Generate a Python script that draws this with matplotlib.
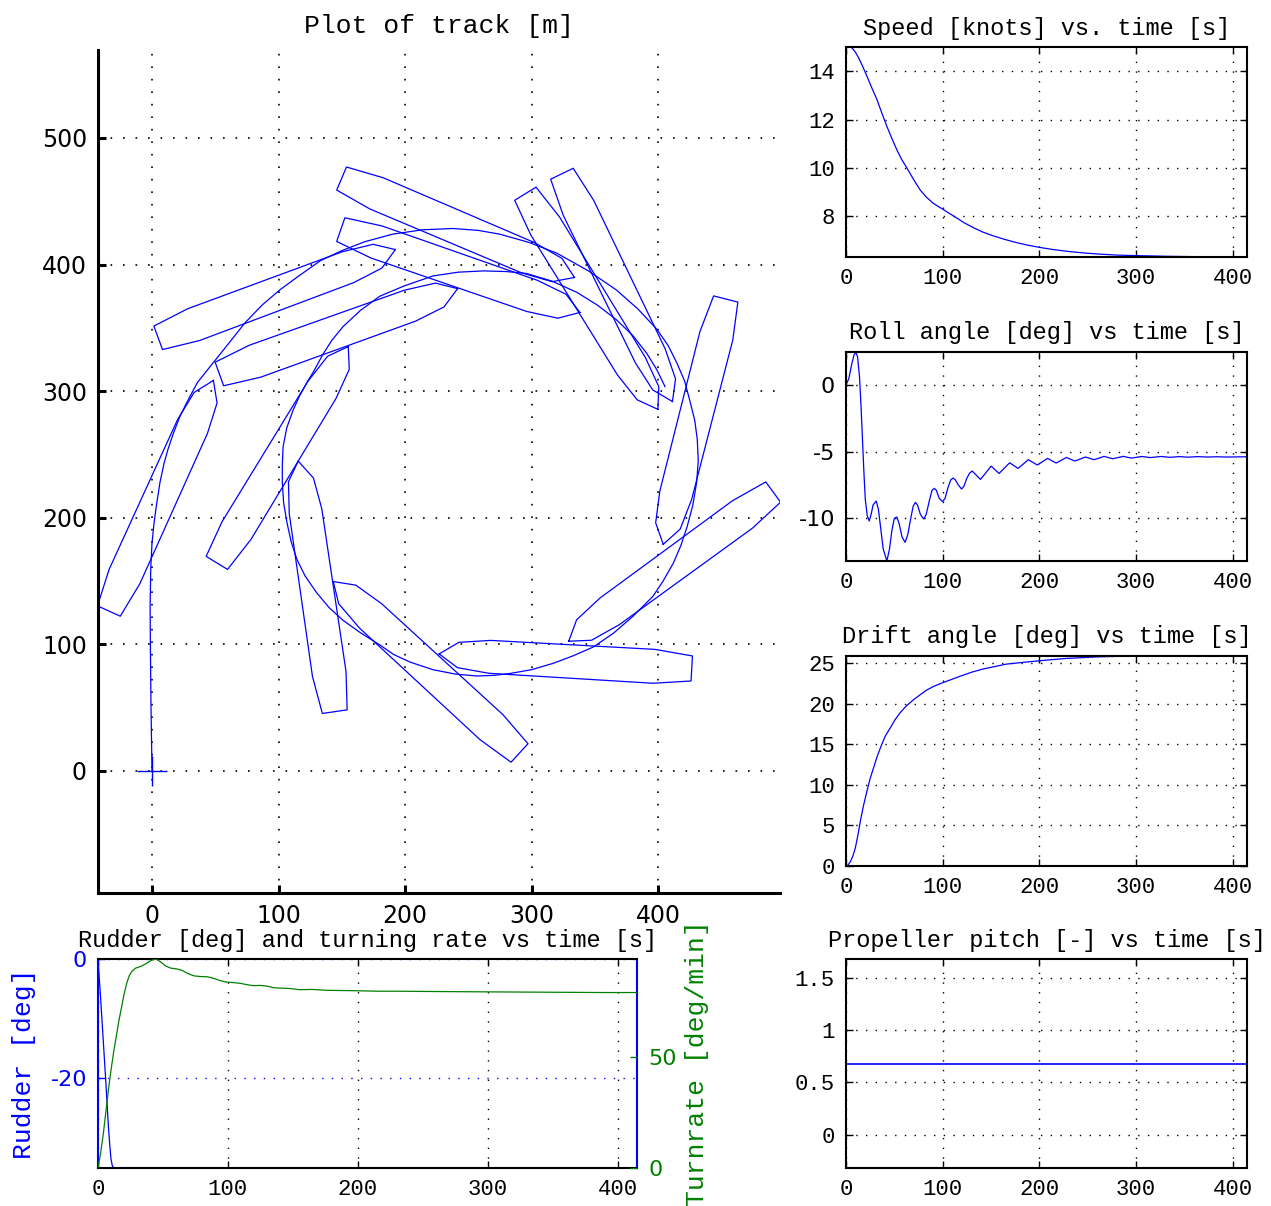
import numpy as np
import matplotlib
matplotlib.use("Agg")
import matplotlib.pyplot as plt
from matplotlib.ticker import FormatStrFormatter

plt.rcParams['font.family'] = ['Liberation Mono', 'DejaVu Sans']
plt.rcParams['axes.unicode_minus'] = False

# track of the ship [m] (east, north)
track_x = [0, -0.8, -1.3, -1.5, -1.0, 0, 1.5, 3.5, 6.3, 9.5, 12.6, 17, 22, 29, 36, 48, 60, 73.5,
           87, 101, 116, 133, 150, 168, 190, 214, 238, 258, 275, 298, 320, 345, 367, 384, 399,
           408, 415, 421, 425, 429, 431, 431.8, 430.5, 427.5, 423, 418, 412, 404, 396, 388, 380,
           365, 349, 333, 317, 300, 283, 270, 257, 240, 222, 204, 191, 180, 165, 151, 140, 130,
           121, 114.6, 110, 106.7, 104, 103, 103, 103.6, 106.5, 111.5, 116.5, 122.5, 128, 135,
           142, 151, 165, 180, 199, 222, 242, 262, 280, 296, 316, 336, 352, 367, 380, 391, 399,
           405.5]
track_y = [0, 50, 100, 130, 160, 180, 195, 210, 228, 243, 254, 267, 280, 294, 307, 322, 337, 354,
           368, 380, 391, 403, 411, 418, 424, 427.5, 428.5, 427, 424, 417.5, 409, 395, 380, 365,
           349, 336, 322, 308, 293, 277, 262, 245, 228, 210, 193, 178, 164, 150, 138, 130, 122,
           109, 98, 91, 85, 80, 77, 75.5, 75, 76.5, 80, 86, 92, 99.6, 109, 119, 129, 141,
           154, 167, 181, 196, 212, 228, 242, 256, 271, 285, 296, 307, 316, 329,
           340, 351, 364, 375, 383, 391, 394, 395, 394.5, 393, 387, 378, 368, 356.5, 344, 330, 317,
           303.6]

# ship outlines: centre [m] and heading [deg]
ship_x = [7.2, 98.6, 241.9, 367.7, 428.8, 410.2, 326.8, 216.9, 130.0, 103.2, 147.4, 243.7, 347.5]
ship_y = [217.4, 377, 428.9, 381.8, 275.9, 161.4, 86.7, 81.9, 145.8, 249.8, 347.3, 394.9, 370.8]
ship_psi = [24.4, 69.6, 113, 154.1, 194.3, 233.9, 273.3, 312.6, 351.7, 31.3, 70.3, 109.1, 148.4]

# hull outline in ship frame (forward, starboard) [m]
hull_u = [100, 85, 60, -70, -100, -100, -70, 60, 85, 100]
hull_v = [0, 10, 13, 13.4, 9.9, -9.9, -13.4, -13, -10, 0]

# speed [knots]
speed_t = [0, 3, 6, 9.5, 13, 17, 21.6, 26.5, 32, 37, 42.3, 47.5, 52.6, 57.5, 63, 70, 76.6, 83, 90,
           95, 100, 107, 114, 122, 131, 141, 152, 164, 176, 188, 200, 214, 228, 245, 262, 280, 297,
           331, 370, 415]
speed_v = [15.0, 15.0, 14.97, 14.8, 14.56, 14.22, 13.8, 13.33, 12.83, 12.28, 11.72, 11.22, 10.75,
           10.36, 10.0, 9.52, 9.1, 8.8, 8.55, 8.42, 8.3, 8.12, 7.95, 7.74, 7.55, 7.36, 7.2, 7.05,
           6.92, 6.81, 6.72, 6.63, 6.56, 6.49, 6.44, 6.4, 6.38, 6.35, 6.33, 6.33]

# roll angle [deg]
roll_t = [0, 3, 6, 8.5, 10.3, 12, 14, 15.5, 17, 18.5, 20, 22, 24, 26, 28, 31.3, 33.5, 36, 38.5,
          42.3, 45, 47.5, 50, 52.6, 55, 58, 61.2, 64, 67, 69.5, 71.8, 74, 77, 80.4, 83, 86.5, 89,
          91.4, 93.5, 96.5, 100, 102.5, 105.5, 108.5, 111, 113, 116.3, 119.6, 122, 125, 128, 130.6,
          135, 139.2, 144.7, 150.2, 154.3, 158.4, 163.9, 169.4, 173.7, 178, 183.4, 188.7, 193.4,
          198, 203.3, 208.6, 213, 217.5, 222.9, 228.2, 232.6, 237, 242.4, 247.8, 252.3, 256.7,
          261.9, 267, 271.5, 276, 281.5, 287, 291.3, 295.5, 306, 315, 326, 335, 345, 354, 364,
          374, 384, 393, 415]
roll_v = [0, 0.5, 1.6, 2.3, 2.45, 2.1, 0.6, -1.5, -4, -6.5, -8.6, -9.8, -10.2, -9.7, -9.0, -8.7,
          -9.3, -10.8, -12.3, -13.2, -12.3, -10.9, -10.0, -9.9, -10.4, -11.4, -11.8, -11.2, -10.0,
          -9.1, -8.8, -9.0, -9.7, -10.05, -9.7, -8.6, -7.9, -7.75, -7.9, -8.5, -8.75, -8.5, -7.7,
          -7.1, -6.98, -7.1, -7.5, -7.8, -7.6, -7.0, -6.6, -6.45,
          -6.77, -7.08, -6.58, -6.08, -6.36, -6.63, -6.23, -5.83, -6.04, -6.25, -5.93, -5.6, -5.8,
          -6.0, -5.75, -5.5, -5.68, -5.85, -5.64, -5.43, -5.57, -5.7, -5.55, -5.4, -5.5, -5.6,
          -5.48, -5.35, -5.44, -5.53, -5.44, -5.35, -5.42, -5.48, -5.36, -5.44, -5.36, -5.42,
          -5.37, -5.41, -5.37, -5.4, -5.38, -5.4, -5.38]

# drift angle [deg]
drift_t = [0, 2, 4.5, 7, 9.6, 12, 14.8, 18, 21.6, 25, 28.5, 32.5, 37, 41, 45.7, 50.5, 56, 62.5,
           69.8, 76.5, 83.5, 91.5, 100, 109, 118, 130, 142, 154, 166, 182, 199, 213, 228, 245, 262,
           280, 297, 350, 415]
drift_v = [0, 0.1, 0.54, 1.2, 2.2, 3.6, 5.5, 7.4, 9.2, 10.8, 12.1, 13.6, 15.0, 16.1, 17.0, 18.0,
           18.9, 19.75, 20.5, 21.1, 21.7, 22.2, 22.6, 23.0, 23.4, 23.9, 24.3, 24.6, 24.9, 25.1,
           25.3, 25.45, 25.6, 25.7, 25.8, 25.85, 25.87, 25.9, 25.9]

# propeller pitch [-]
pitch_t = [0, 415]
pitch_v = [0.68, 0.68]

# rudder [deg] and turning rate [deg/min]
rudder_t = [0, 2, 4, 6, 8, 9, 10, 11, 12, 29]
rudder_v = [0, -6.5, -13.5, -20.5, -28, -31, -33.5, -34.6, -35, -35]
turn_t = [0, 2, 4, 6, 8, 10, 12, 14, 16, 18, 20, 22, 24, 26, 29, 33, 37, 41, 44.8, 48, 52, 56,
          61, 65, 69, 74, 79, 84, 89, 94, 99, 104, 110, 115, 120, 125, 130, 135, 140, 148, 155,
          165, 176, 188, 200, 215, 230, 250, 275, 300, 330, 360, 390, 415]
turn_v = [0, 6.6, 15, 25, 35, 44, 52, 59, 66, 72, 78, 83, 86.5, 88.5, 90, 90.8, 92, 93.5, 94.1,
          92.9, 91, 90, 89.6, 88.9, 87.6, 86.5, 86.2, 86.1, 85.4, 84.4, 83.7, 83.5, 83.1, 82.5,
          82.1, 82.2, 81.9, 81.2, 81, 80.8, 80.3, 80.4, 80, 79.9, 79.8, 79.6, 79.6, 79.5, 79.4,
          79.3, 79.2, 79.1, 79.0, 79.0]

W, H = 1271, 1206
fig = plt.figure(figsize=(W / 100, H / 100), dpi=100)
dots = (0, (1, 6))


def box(left, top, right, bottom):
    return [left / W, 1 - bottom / H, (right - left) / W, (bottom - top) / H]


def small_panel(rect, title):
    a = fig.add_axes(rect)
    a.set_title(title, fontsize=17, pad=9)
    a.set_xlim(0, 415)
    a.set_xticks([0, 100, 200, 300, 400])
    a.grid(True, color='k', linestyle=dots, linewidth=1.0)
    a.tick_params(direction='in', length=5, width=1, labelsize=16, pad=8,
                  top=True, right=True)
    for s in a.spines.values():
        s.set_linewidth(1.5)
    return a


# track plot
ax = fig.add_axes(box(98, 50, 780, 893))
ax.plot(track_x, track_y, color='b', lw=0.9)
u = np.array(hull_u, dtype=float)
v = np.array(hull_v, dtype=float)
for cx, cy, psi in zip(ship_x, ship_y, ship_psi):
    p = np.deg2rad(psi)
    hx = cx + u * np.sin(p) + v * np.cos(p)
    hy = cy + u * np.cos(p) - v * np.sin(p)
    ax.plot(hx, hy, color='b', lw=0.9)
ax.plot(track_x[0], track_y[0], 'b+', ms=22, mew=1.0)
ax.set_xlim(-42.7, 496.4)
ax.set_ylim(-96.4, 569.5)
ax.set_xticks([0, 100, 200, 300, 400])
ax.set_yticks([0, 100, 200, 300, 400, 500])
ax.grid(True, color='k', linestyle=(0, (1, 6.5)), linewidth=1.2)
ax.spines['top'].set_visible(False)
ax.spines['right'].set_visible(False)
ax.spines['left'].set_linewidth(2.2)
ax.spines['bottom'].set_linewidth(2.2)
ax.tick_params(direction='in', length=6, width=2.2, labelsize=17, pad=8)
for lab in ax.get_xticklabels() + ax.get_yticklabels():
    lab.set_fontfamily('DejaVu Sans')
ax.set_title('Plot of track [m]', fontsize=19, pad=12)

# speed
ax1 = small_panel(box(846, 47, 1247, 257), 'Speed [knots] vs. time [s]')
ax1.plot(speed_t, speed_v, color='b', lw=0.9)
ax1.set_ylim(6.32, 15.0)
ax1.set_yticks([8, 10, 12, 14])

# roll
ax2 = small_panel(box(846, 352, 1247, 561), 'Roll angle [deg] vs time [s]')
ax2.plot(roll_t, roll_v, color='b', lw=0.9)
ax2.set_ylim(-13.2, 2.48)
ax2.set_yticks([-10, -5, 0])
for lab in ax2.get_yticklabels():
    lab.set_fontfamily('DejaVu Sans')

# drift
ax3 = small_panel(box(846, 656, 1247, 866), 'Drift angle [deg] vs time [s]')
ax3.plot(drift_t, drift_v, color='b', lw=0.9)
ax3.set_ylim(0, 25.9)
ax3.set_yticks([0, 5, 10, 15, 20, 25])

# propeller pitch
ax4 = small_panel(box(846, 959, 1247, 1168), 'Propeller pitch [-] vs time [s]')
ax4.plot(pitch_t, pitch_v, color='b', lw=1.2)
ax4.set_ylim(-0.32, 1.68)
ax4.set_yticks([0, 0.5, 1, 1.5])
ax4.yaxis.set_major_formatter(FormatStrFormatter('%g'))

# rudder and turning rate
ax5 = fig.add_axes(box(98, 959, 637, 1168))
ax5.set_title('Rudder [deg] and turning rate vs time [s]', fontsize=17, pad=9)
ax5.plot(rudder_t, rudder_v, color='b', lw=0.9)
ax5.set_xlim(0, 415)
ax5.set_ylim(-35, 0)
ax5.set_xticks([0, 100, 200, 300, 400])
ax5.set_yticks([-20, 0])
ax5.grid(True, axis='x', color='k', linestyle=dots, linewidth=1.0)
ax5.grid(True, axis='y', color='b', linestyle=dots, linewidth=1.0)
ax5.tick_params(direction='in', length=5, width=1, labelsize=16, pad=8, top=True)
ax5.tick_params(axis='y', colors='b', right=True)
for lab in ax5.get_yticklabels():
    lab.set_fontfamily('DejaVu Sans')
ax5.set_ylabel('Rudder [deg]', color='b', fontsize=19, labelpad=10)
for s in ax5.spines.values():
    s.set_linewidth(1.5)
ax5.spines['left'].set_color('b')
ax5.spines['right'].set_color('b')

ax6 = ax5.twinx()
ax6.plot(turn_t, turn_v, color='g', lw=0.9)
ax6.set_ylim(0, 94.1)
ax6.set_yticks([0, 50])
ax6.tick_params(direction='in', length=5, width=1, labelsize=16, pad=8, colors='g')
for lab in ax6.get_yticklabels():
    lab.set_fontfamily('DejaVu Sans')
ax6.set_ylabel('Turnrate [deg/min]', color='g', fontsize=19, labelpad=6)
for s in ax6.spines.values():
    s.set_visible(False)

fig.savefig('out.png', dpi=100)
